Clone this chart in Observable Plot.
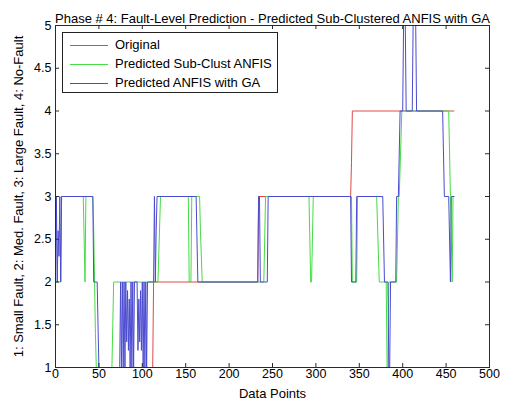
<!DOCTYPE html>
<html><head><meta charset="utf-8">
<script src="https://cdn.jsdelivr.net/npm/d3@7"></script>
<script src="https://cdn.jsdelivr.net/npm/@observablehq/plot@0.6"></script>
<style>
body{margin:0;background:#fff;}
#wrap{position:relative;width:509px;height:408px;}
#wrap > svg{display:block;}
#legend{position:absolute;left:62px;top:32px;width:216px;height:61px;box-sizing:border-box;border:1px solid #222;background:#fff;font-family:'Liberation Sans',Arial,sans-serif;font-size:13px;color:#000;}
.item{position:absolute;left:0;width:210px;height:18px;line-height:18px;white-space:nowrap;}
.item .sw{position:absolute;left:7px;top:9px;width:38px;height:0;border-top-width:1px;border-top-style:solid;}
.item .lb{position:absolute;left:52px;top:0;}
</style>
</head><body>
<div id="wrap"><div id="legend"></div></div>
<script>
const titleText = "Phase # 4: Fault-Level Prediction - Predicted Sub-Clustered ANFIS with GA";
const xLabel = "Data Points";
const yLabel = "1: Small Fault, 2: Med. Fault, 3: Large Fault, 4: No-Fault";
const seriesNames = ["Original", "Predicted Sub-Clust ANFIS", "Predicted ANFIS with GA"];
const seriesColors = ["#e24848", "#45dc45", "#4b4bd0"];
const xTicks = [0, 50, 100, 150, 200, 250, 300, 350, 400, 450, 500];
const yTicks = [1, 1.5, 2, 2.5, 3, 3.5, 4, 4.5, 5];

// breakpoints (data index, value)
const originalX = [0, 112, 113, 233, 234, 340, 341, 342, 459];
const originalY = [1, 1, 2, 2, 3, 3, 3.4, 4, 4];

const subClustX = [0, 6, 7, 32, 34, 35, 43, 44, 45, 46, 47, 65, 66, 67, 118, 121, 153, 154, 156, 157, 166, 167, 169, 240, 242, 292, 294, 295, 297, 341, 342, 347, 348, 370, 373, 381, 382, 383, 384, 393, 395, 396, 399, 453, 455, 457, 458, 459];
const subClustY = [2, 2, 3, 3, 2, 3, 3, 2.6, 2, 1.4, 1, 1, 1.5, 2, 2, 3, 3, 2, 2, 3, 3, 2.6, 2, 2, 3, 3, 2, 2, 3, 3, 2, 2, 3, 3, 2, 2, 1, 1, 2, 2, 3, 3, 4, 4, 3, 2, 3, 3];

const gaX = [0, 1, 2, 3, 4, 5, 6, 7, 43, 44, 48, 50, 74, 75, 76, 77, 78, 79, 80, 81, 82, 83, 84, 85, 86, 87, 88, 89, 90, 91, 94, 95, 96, 97, 98, 99, 100, 101, 102, 103, 104, 105, 106, 113, 114, 115, 116, 117, 162, 164, 233, 234, 235, 236, 244, 245, 340, 341, 346, 347, 377, 379, 383, 384, 385, 386, 392, 393, 395, 397, 400, 401, 403, 404, 411, 412, 415, 416, 446, 448, 453, 455, 456, 459];
const gaY = [2, 3, 2, 2.6, 2.3, 3, 2, 3, 3, 2, 2, 1, 1, 2, 1, 2, 1, 2, 1, 2, 1.3, 1.9, 1.2, 1.8, 1, 2, 1, 2, 1, 2, 2, 1.2, 1.8, 1.3, 1.9, 1.2, 2, 1, 2, 1, 2, 1, 2, 2, 3, 2, 2.6, 3, 3, 2, 2, 3, 3, 2, 2, 3, 3, 2, 2, 3, 3, 2, 2, 1, 1, 2, 2, 3, 3, 4, 4, 5, 5, 4, 4, 5, 5, 4, 4, 3, 3, 2, 3, 3];

const seriesX = [originalX, subClustX, gaX];
const seriesY = [originalY, subClustY, gaY];
const rows = [];
seriesNames.forEach((name, i) => {
  seriesX[i].forEach((x, j) => rows.push({series: name, x, y: seriesY[i][j]}));
});

const W = 509, H = 408, mL = 55, mR = 20, mT = 25, mB = 41;
const plotW = W - mL - mR, plotH = H - mT - mB;
const axisColor = "#2a2a2a";
const font = "'Liberation Sans', Arial, sans-serif";

const chart = Plot.plot({
  width: W, height: H,
  marginLeft: mL, marginRight: mR, marginTop: mT, marginBottom: mB,
  style: {fontFamily: font, fontSize: "13px", background: "#fff", color: "#000", overflow: "visible"},
  x: {domain: [0, 500]},
  y: {domain: [1, 5]},
  color: {domain: seriesNames, range: seriesColors},
  marks: [
    Plot.line(rows, {x: "x", y: "y", z: "series", stroke: "series", strokeWidth: 1, clip: true}),
    Plot.frame({stroke: axisColor}),
    Plot.tickX(xTicks, {x: d => d, insetTop: plotH - 4, stroke: axisColor}),
    Plot.tickX(xTicks, {x: d => d, insetBottom: plotH - 4, stroke: axisColor}),
    Plot.tickY(yTicks, {y: d => d, insetRight: plotW - 4, stroke: axisColor}),
    Plot.tickY(yTicks, {y: d => d, insetLeft: plotW - 4, stroke: axisColor}),
    Plot.axisX({ticks: xTicks, tickSize: 0, tickPadding: 2, label: null, tickFormat: d => String(d), fontSize: 12.5}),
    Plot.axisY({ticks: yTicks, tickSize: 0, tickPadding: 4, label: null, tickFormat: d => String(d), fontSize: 12.5}),
    Plot.text([xLabel], {frameAnchor: "bottom", dy: 30, fontSize: 13}),
    Plot.text([yLabel], {frameAnchor: "left", dx: -37, rotate: -90, textAnchor: "middle", fontSize: 13}),
    Plot.text([titleText], {frameAnchor: "top", dy: -12, fontSize: 13})
  ]
});
const wrap = document.getElementById("wrap");
wrap.insertBefore(chart, wrap.firstChild);

const legend = document.getElementById("legend");
const rowTops = [3, 22, 41];
seriesNames.forEach((name, i) => {
  const it = document.createElement("div");
  it.className = "item";
  it.style.top = rowTops[i] + "px";
  const sw = document.createElement("div");
  sw.className = "sw";
  sw.style.borderTopColor = seriesColors[i];
  const lb = document.createElement("span");
  lb.className = "lb";
  lb.textContent = name;
  it.appendChild(sw); it.appendChild(lb);
  legend.appendChild(it);
});
</script>
</body></html>
